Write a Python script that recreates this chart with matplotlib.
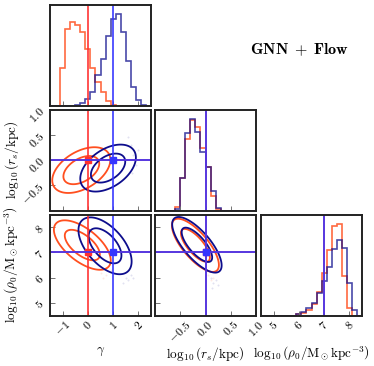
import numpy as np
import matplotlib
matplotlib.use("Agg")
import matplotlib.pyplot as plt

plt.rcParams['mathtext.fontset'] = 'cm'
plt.rcParams['font.family'] = ['DejaVu Serif']

# ---------------- data ----------------
param_labels = [r'$\gamma$', r'$\log_{10}\left(r_s/\mathrm{kpc}\right)$',
                r'$\log_{10}\left(\rho_0/\mathrm{M_\odot kpc^{-3}}\right)$']
ranges = [(-1.5, 2.5), (-1.0, 1.0), (4.5, 8.5)]
ticks = [[-1, 0, 1, 2], [-0.5, 0.0, 0.5, 1.0], [5, 6, 7, 8]]
tick_labels = [[r'$-1$', r'$0$', r'$1$', r'$2$'],
               [r'$-0.5$', r'$0.0$', r'$0.5$', r'$1.0$'],
               [r'$5$', r'$6$', r'$7$', r'$8$']]
n_bins = 20

truth_red = [0.0, 0.0, 7.0]
truth_blue = [1.0, 0.0, 7.0]

# histogram heights per bin (20 bins over each range)
hist_red = [
    [0, 0, 113, 231, 253, 244, 222, 171, 114, 71, 42, 14, 3, 0, 0, 0, 0, 0, 0, 0],
    [0, 0, 0, 0, 10, 97, 210, 265, 245, 185, 127, 42, 5, 0, 0, 0, 0, 0, 0, 0],
    [0, 0, 0, 0, 0, 0, 0, 3, 7, 17, 35, 70, 125, 195, 265, 272, 117, 22, 0, 0],
]
hist_blue = [
    [0, 0, 0, 0, 0, 2, 8, 21, 41, 92, 141, 211, 261, 276, 221, 136, 58, 17, 3, 0],
    [0, 0, 0, 0, 5, 97, 227, 270, 232, 173, 127, 57, 8, 0, 0, 0, 0, 0, 0, 0],
    [0, 0, 0, 0, 0, 0, 0, 3, 10, 23, 38, 68, 102, 145, 197, 225, 200, 97, 15, 0],
]

# 2D gaussian summaries: (mean_x, mean_y, sigma_x, sigma_y, corr) keyed by (i, j)
gauss_red = {
    (1, 0): (-0.26, -0.20, 0.47, 0.185, 0.45),
    (2, 0): (-0.22, 7.29, 0.46, 0.40, -0.62),
    (2, 1): (-0.20, 7.28, 0.19, 0.43, -0.74),
}
gauss_blue = {
    (1, 0): (0.80, -0.16, 0.45, 0.19, 0.45),
    (2, 0): (0.68, 7.26, 0.43, 0.46, -0.55),
    (2, 1): (-0.17, 7.30, 0.20, 0.45, -0.74),
}
contour_levels = [0.68, 0.95]

# faint outlying samples seen outside the contours
outliers_red = {
    (1, 0): ([0.9, 1.0, 0.7], [-0.35, -0.45, -0.55]),
    (2, 0): ([0.5, 0.7, 0.9, 0.6], [6.2, 6.1, 6.3, 6.0]),
    (2, 1): ([0.05, 0.1, 0.15], [6.1, 5.9, 6.0]),
}
outliers_blue = {
    (1, 0): ([1.7, 1.8, 1.9, 1.6, 2.0, 1.75], [0.3, 0.1, -0.1, 0.45, 0.2, -0.25]),
    (2, 0): ([1.5, 1.6, 1.7, 1.8, 1.4], [6.0, 5.9, 6.1, 6.0, 5.8]),
    (2, 1): ([0.1, 0.15, 0.2, 0.25, 0.12], [6.0, 5.8, 5.9, 5.7, 5.6]),
}

# ---------------- style ----------------
c_red = '#ff4f1f'
c_blue = '#0d0d8c'
t_red = '#ff3030'
t_blue = '#3535ff'

W, H = 374, 366
fig = plt.figure(figsize=(W / 100, H / 100), dpi=100)
col_x = [50, 155, 261]
row_y = [5, 109.5, 214.5]
size = 101

def add_ax(i, j):
    x0 = col_x[j]
    y0 = row_y[i]
    return fig.add_axes([x0 / W, 1 - (y0 + size) / H, size / W, size / H])

r2 = [-2 * np.log(1 - p) for p in contour_levels]

axes = {}
for i in range(3):
    for j in range(i + 1):
        ax = add_ax(i, j)
        axes[(i, j)] = ax
        for s in ax.spines.values():
            s.set_linewidth(1.4)
            s.set_color('#222222')
        ax.tick_params(direction='in', length=3.5, width=0.7, color='0.45',
                       labelsize=8.5, pad=2)
        ax.set_xlim(*ranges[j])
        ax.set_xticks(ticks[j])
        if i == j:
            edges = np.linspace(ranges[j][0], ranges[j][1], n_bins + 1)
            hr = np.array(hist_red[j], float)
            hb = np.array(hist_blue[j], float)
            ax.stairs(hr, edges, color=c_red, lw=1.2, alpha=0.85)
            ax.stairs(hb, edges, color=c_blue, lw=1.2, alpha=0.75)
            ax.axvline(truth_red[j], color=t_red, lw=1.3, alpha=0.9)
            ax.axvline(truth_blue[j], color=t_blue, lw=1.3, alpha=0.9)
            ax.set_ylim(0, 1.1 * max(hr.max(), hb.max()))
            ax.set_yticks([])
        else:
            ax.set_ylim(*ranges[i])
            ax.set_yticks(ticks[i])
            ox, oy = outliers_red[(i, j)]
            ax.scatter(ox, oy, s=2, color=c_red, alpha=0.12, lw=0)
            ox, oy = outliers_blue[(i, j)]
            ax.scatter(ox, oy, s=2, color=c_blue, alpha=0.12, lw=0)
            xs = np.linspace(ranges[j][0], ranges[j][1], 300)
            ys = np.linspace(ranges[i][0], ranges[i][1], 300)
            X, Y = np.meshgrid(xs, ys)
            for g, col in ((gauss_red[(i, j)], c_red), (gauss_blue[(i, j)], c_blue)):
                mx, my, sx, sy, rho = g
                u = (X - mx) / sx
                v = (Y - my) / sy
                D2 = (u * u - 2 * rho * u * v + v * v) / (1 - rho ** 2)
                ax.contour(X, Y, D2, levels=r2, colors=[col], linewidths=1.3)
            ax.axvline(truth_red[j], color=t_red, lw=1.3, alpha=0.9)
            ax.axhline(truth_red[i], color=t_red, lw=1.3, alpha=0.9)
            ax.plot(truth_red[j], truth_red[i], 's', color=t_red, ms=4.5)
            ax.axvline(truth_blue[j], color=t_blue, lw=1.3, alpha=0.9)
            ax.axhline(truth_blue[i], color=t_blue, lw=1.3, alpha=0.9)
            ax.plot(truth_blue[j], truth_blue[i], 's', color=t_blue, ms=4.5)
            if j == 0:
                ax.set_yticklabels(tick_labels[i], rotation=45)
                ax.set_ylabel(param_labels[i], fontsize=9.5, labelpad=4)
            else:
                ax.set_yticklabels([])
        if i == 2:
            ax.set_xticklabels(tick_labels[j], rotation=45)
            ax.set_xlabel(param_labels[j], fontsize=9.5, labelpad=3)
        else:
            ax.set_xticklabels([])

# align labels
for i in (1, 2):
    axes[(i, 0)].yaxis.set_label_coords(-0.29, 0.5)
for j in range(3):
    axes[(2, j)].xaxis.set_label_coords(0.5, -0.29)

fig.text(299 / W, 1 - 50 / H, r'$\mathbf{GNN}\;+\;\mathbf{Flow}$', fontsize=11.5,
         ha='center', va='center')

fig.savefig('out.png', dpi=100)
